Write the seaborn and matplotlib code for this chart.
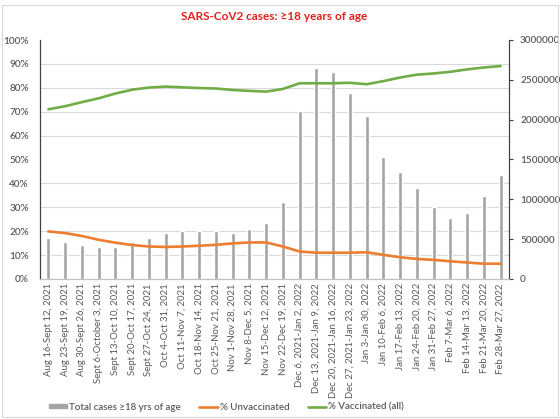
import numpy as np
import pandas as pd
import matplotlib
matplotlib.use("Agg")
import matplotlib.pyplot as plt
import matplotlib.patches as mpatches
from matplotlib.lines import Line2D
from matplotlib.ticker import FixedLocator, PercentFormatter, StrMethodFormatter
import seaborn as sns

# ---- data ----
weeks = ["Aug 16-Sept 12, 2021", "Aug 23-Sept 19, 2021", "Aug 30-Sept 26, 2021",
         "Sept 6-October 3, 2021", "Sept 13-Oct 10, 2021", "Sept 20-Oct 17, 2021",
         "Sept 27-Oct 24, 2021", "Oct 4-Oct 31, 2021", "Oct 11-Nov 7, 2021",
         "Oct 18-Nov 14, 2021", "Oct 25-Nov 21, 2021", "Nov 1-Nov 28, 2021",
         "Nov 8-Dec 5, 2021", "Nov 15-Dec 12, 2021", "Nov 22-Dec 19, 2021",
         "Dec 6, 2021-Jan 2, 2022", "Dec 13, 2021-Jan 9, 2022", "Dec 20, 2021-Jan 16, 2022",
         "Dec 27, 2021-Jan 23, 2022", "Jan 3-Jan 30, 2022", "Jan 10-Feb 6, 2022",
         "Jan 17-Feb 13, 2022", "Jan 24-Feb 20, 2022", "Jan 31-Feb 27, 2022",
         "Feb 7-Mar 6, 2022", "Feb 14-Mar 13, 2022", "Feb 21-Mar 20, 2022",
         "Feb 28-Mar 27, 2022"]

total_cases = [520000, 464000, 431000, 397000, 406000, 464000, 519000, 582000,
               602000, 598000, 598000, 582000, 628000, 707000, 965000, 2115000,
               2645000, 2594000, 2335000, 2046000, 1531000, 1347000, 1142000,
               900000, 766000, 833000, 1038000, 1305000]

pct_unvaccinated = [19.9, 19.2, 18.0, 16.4, 15.2, 14.2, 13.6, 13.4, 13.6, 13.9,
                    14.3, 14.9, 15.3, 15.3, 13.6, 11.5, 11.0, 11.0, 11.0, 11.2,
                    10.1, 9.1, 8.4, 8.0, 7.4, 6.9, 6.4, 6.4]

pct_vaccinated = [71.0, 72.3, 74.0, 75.6, 77.6, 79.2, 80.1, 80.5, 80.2, 79.9,
                  79.7, 79.1, 78.7, 78.4, 79.5, 81.9, 81.9, 81.9, 82.1, 81.5,
                  82.8, 84.3, 85.5, 86.0, 86.7, 87.7, 88.5, 89.1]

df = pd.DataFrame({"week": weeks, "cases": total_cases,
                   "unvax": pct_unvaccinated, "vax": pct_vaccinated})
df["pos"] = np.arange(len(df))

sns.set_style("white")
plt.rcParams["font.family"] = ["Lato", "DejaVu Sans"]

txt = "#595959"
bar_col = "#a5a5a5"
orange = "#ed7d31"
green = "#70ad47"

fig = plt.figure(figsize=(5.6, 4.19), dpi=100)
ax = fig.add_axes([40 / 560, 1 - 279 / 419, 469 / 560, 239 / 419])
ax2 = ax.twinx()

# bars on the secondary (cases) axis, drawn behind the lines
sns.barplot(data=df, x="pos", y="cases", ax=ax2, color=bar_col, width=0.25,
            saturation=1, zorder=2)
ax2.set_ylim(0, 3000000)
ax2.set_yticks(np.arange(0, 3000001, 500000))
ax2.yaxis.set_major_formatter(StrMethodFormatter("{x:.0f}"))
ax2.yaxis.set_minor_locator(FixedLocator(np.arange(0, 3000001, 300000)))
ax2.grid(which="minor", axis="y", color="#d9d9d9", linewidth=0.8, zorder=0)
ax2.set_axisbelow(True)
ax2.set_ylabel("")
ax2.set_xlabel("")

sns.lineplot(data=df, x="pos", y="unvax", ax=ax, color=orange, linewidth=1.9)
sns.lineplot(data=df, x="pos", y="vax", ax=ax, color=green, linewidth=1.9)
ax.set_zorder(ax2.get_zorder() + 1)
ax.patch.set_visible(False)

ax.set_ylim(0, 100)
ax.set_yticks(np.arange(0, 101, 10))
ax.yaxis.set_major_formatter(PercentFormatter(decimals=0))
ax.set_xlim(-0.5, len(df) - 0.5)
ax.set_xticks(df["pos"])
ax.set_xticklabels(df["week"], rotation=90, fontsize=6.9, color=txt)
ax.set_ylabel("")
ax.set_xlabel("")

for a in (ax, ax2):
    a.tick_params(axis="y", labelsize=7.2, labelcolor=txt, length=0, pad=8)
    a.tick_params(axis="x", length=0, pad=3)
    a.spines["top"].set_visible(False)
    a.spines["left"].set_color("#404040")
    a.spines["right"].set_color("#404040")
    a.spines["bottom"].set_color("#bfbfbf")
for lab in ax.get_yticklabels() + ax2.get_yticklabels():
    lab.set_fontweight("semibold")
ax2.tick_params(axis="y", which="major", length=3, color="#404040", direction="out", pad=5)
ax2.tick_params(axis="y", which="minor", length=0)

fig.text(0.5 * (40 + 509) / 560, 1 - 17 / 419, "SARS-CoV2 cases: \u226518 years of age",
         ha="center", va="center", color="#e3201b", fontsize=8.5, fontweight="bold")

handles = [mpatches.Patch(color=bar_col, label="Total cases \u226518 yrs of age"),
           Line2D([], [], color=orange, linewidth=1.9, label="% Unvaccinated"),
           Line2D([], [], color=green, linewidth=1.9, label="% Vaccinated (all)")]
leg = fig.legend(handles=handles, loc="center left", bbox_to_anchor=(40 / 560, 1 - 407 / 419),
                 ncol=3, frameon=False, fontsize=7, handlelength=1.9,
                 handleheight=0.35, columnspacing=1.9, handletextpad=0.2)
for t in leg.get_texts():
    t.set_color(txt)
    t.set_fontweight("semibold")

# light chart-area border
fig.patches.append(mpatches.Rectangle((2 / 560, 2 / 419), 556 / 560, 412 / 419,
                                      transform=fig.transFigure, fill=False,
                                      edgecolor="#d9d9d9", linewidth=0.8))

fig.savefig("out.png", dpi=100)
